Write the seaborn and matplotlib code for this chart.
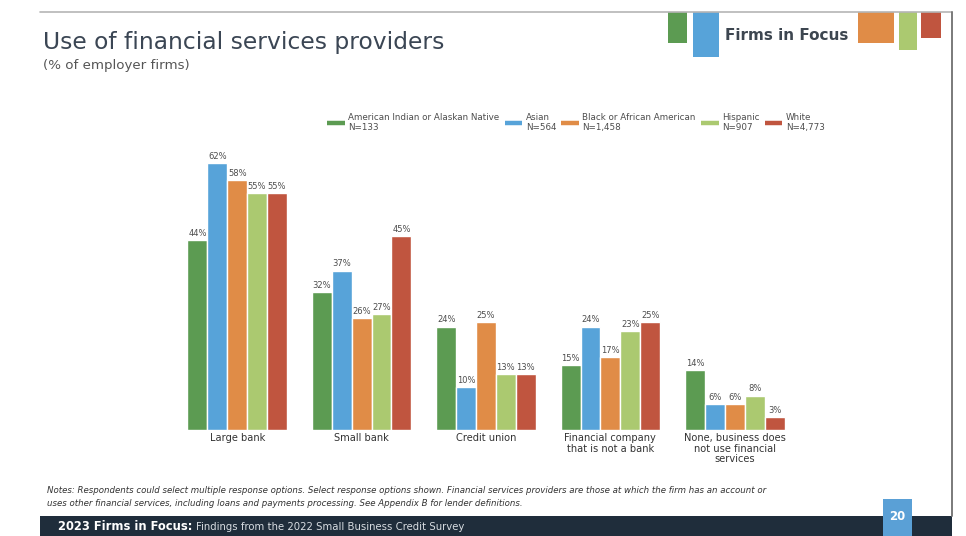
import matplotlib
matplotlib.use("Agg")
import matplotlib.pyplot as plt
from matplotlib.lines import Line2D
from matplotlib.patches import Rectangle
import pandas as pd
import seaborn as sns

# ---- data -------------------------------------------------------------
providers = [
    "Large bank",
    "Small bank",
    "Credit union",
    "Financial company\nthat is not a bank",
    "None, business does\nnot use financial\nservices",
]
groups = [
    "American Indian or Alaskan Native",
    "Asian",
    "Black or African American",
    "Hispanic",
    "White",
]
group_n = ["N=133", "N=564", "N=1,458", "N=907", "N=4,773"]

american_indian = [44, 32, 24, 15, 14]
asian = [62, 37, 10, 24, 6]
black = [58, 26, 25, 17, 6]
hispanic = [55, 27, 13, 23, 8]
white = [55, 45, 13, 25, 3]

colors = ["#5c9b52", "#57a3d9", "#e08c47", "#abc970", "#c0553f"]

series = [american_indian, asian, black, hispanic, white]
df = pd.DataFrame(
    [(p, g, v) for g, vals in zip(groups, series) for p, v in zip(providers, vals)],
    columns=["provider", "group", "pct"],
)

# ---- figure -----------------------------------------------------------
sns.set_theme(style="white")
plt.rcParams["font.family"] = ["DejaVu Sans"]

W, H = 966, 536
fig = plt.figure(figsize=(W / 100, H / 100), dpi=100)
fig.patch.set_facecolor("white")


def fx(px):
    return px / W


def fy(py):
    return 1 - py / H


ax = fig.add_axes([fx(175), fy(430), fx(622), 290 / H])
sns.barplot(
    data=df, x="provider", y="pct", hue="group", hue_order=groups,
    order=providers, palette=colors, width=0.8, edgecolor="white",
    linewidth=1.0, saturation=1, legend=False, ax=ax,
)
for cont in ax.containers:
    ax.bar_label(cont, fmt="%d%%", fontsize=6.0, color="#4d4d4d", padding=1.5)

ax.set_ylim(0, 290 / 4.31)
ax.set_xlim(-0.5, 4.5)
ax.set_xlabel("")
ax.set_ylabel("")
ax.set_yticks([])
ax.tick_params(axis="x", length=0, labelsize=7.1, labelcolor="#333333", pad=2.5)
for lbl in ax.get_xticklabels():
    lbl.set_linespacing(1.05)
sns.despine(ax=ax, left=True, bottom=True)

# legend
handles = [Line2D([0], [0], color=c, lw=3.2, solid_capstyle="butt") for c in colors]
labels = [f"{g}\n{n}" for g, n in zip(groups, group_n)]
fig.legend(
    handles, labels, ncol=5, loc="center", bbox_to_anchor=(fx(576), fy(122.5)),
    frameon=False, fontsize=6.3, handlelength=2.0, handletextpad=0.4,
    columnspacing=0.6, labelcolor="#4d4d4d",
)

# ---- slide frame ------------------------------------------------------
fig.add_artist(Line2D([fx(40), fx(952)], [fy(12), fy(12)], color="#b5b5b5", lw=1.2))
fig.add_artist(Line2D([fx(952), fx(952)], [fy(12), fy(516)], color="#7a7a7a", lw=1.4))

# header logo blocks
for x0, x1, y1, c in [
    (668, 687, 43, colors[0]),
    (693, 719, 57, colors[1]),
    (858, 894, 43, colors[2]),
    (899, 917, 50, colors[3]),
    (921, 941, 38, colors[4]),
]:
    fig.add_artist(Rectangle((fx(x0), fy(y1)), fx(x1 - x0), (y1 - 12) / H,
                             color=c, lw=0))
fig.text(fx(787), fy(35), "Firms in Focus", fontsize=11, fontweight="bold",
         color="#3d4650", ha="center", va="center")

# titles
fig.text(fx(43), fy(49), "Use of financial services providers", fontsize=16.8,
         color="#3b4654", ha="left", va="baseline")
fig.text(fx(43), fy(69), "(% of employer firms)", fontsize=9.6,
         color="#555555", ha="left", va="baseline")

# notes
fig.text(fx(47), fy(493),
         "Notes: Respondents could select multiple response options. Select response options shown. "
         "Financial services providers are those at which the firm has an account or",
         fontsize=6.2, style="italic", color="#333333", ha="left", va="baseline")
fig.text(fx(47), fy(506),
         "uses other financial services, including loans and payments processing. "
         "See Appendix B for lender definitions.",
         fontsize=6.2, style="italic", color="#333333", ha="left", va="baseline")

# footer bar
fig.add_artist(Rectangle((fx(40), 0), fx(912), fy(516), color="#1f2d3b", lw=0))
fig.add_artist(Rectangle((fx(883), 0), fx(29), fy(499), color="#5aa0d6", lw=0))
fig.text(fx(897.5), fy(516), "20", fontsize=8.5, fontweight="bold",
         color="white", ha="center", va="center")
fig.text(fx(58), fy(530), "2023 Firms in Focus:", fontsize=8.3,
         fontweight="bold", color="white", ha="left", va="baseline")
fig.text(fx(196), fy(530), "Findings from the 2022 Small Business Credit Survey",
         fontsize=7.3, color="#d8dde2", ha="left", va="baseline")

fig.savefig("out.png", dpi=100, facecolor="white")
